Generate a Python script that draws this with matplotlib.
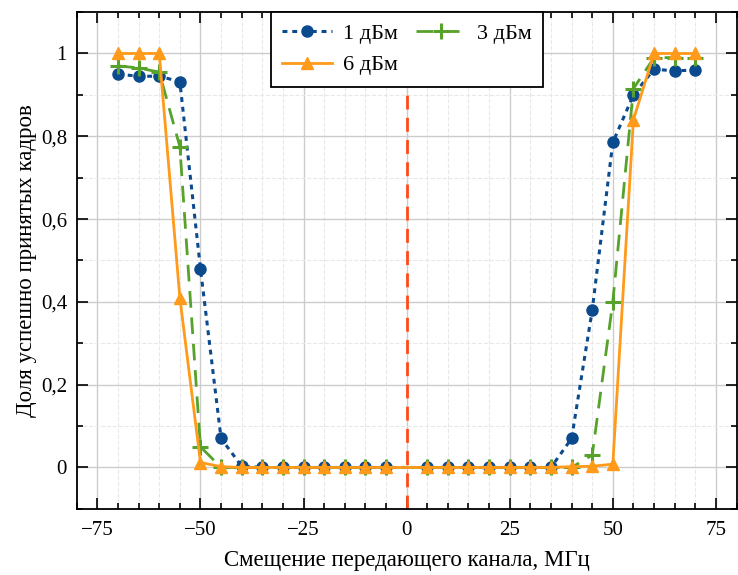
import matplotlib
matplotlib.use("Agg")
import matplotlib.pyplot as plt
from matplotlib.ticker import MultipleLocator, FuncFormatter

plt.rcParams["font.family"] = ["Liberation Serif", "DejaVu Serif"]

offsets = [-70, -65, -60, -55, -50, -45, -40, -35, -30, -25, -20, -15, -10, -5,
           5, 10, 15, 20, 25, 30, 35, 40, 45, 50, 55, 60, 65, 70]

p1dbm = [0.95, 0.945, 0.945, 0.932, 0.48, 0.07, 0.003, 0, 0, 0, 0, 0, 0, 0,
         0, 0, 0, 0, 0, 0, 0, 0.07, 0.38, 0.785, 0.90, 0.962, 0.958, 0.96]
p3dbm = [0.97, 0.965, 0.955, 0.775, 0.05, 0, 0, 0, 0, 0, 0, 0, 0, 0,
         0, 0, 0, 0, 0, 0, 0, 0, 0.03, 0.40, 0.915, 0.99, 0.99, 0.99]
p6dbm = [1.0, 1.0, 1.0, 0.41, 0.012, 0.002, 0, 0, 0, 0, 0, 0, 0, 0,
         0, 0, 0, 0, 0, 0, 0, 0.002, 0.003, 0.008, 0.84, 1.0, 1.0, 1.0]

fig = plt.figure(figsize=(7.38, 5.75), dpi=100)
ax = fig.add_axes([0.104, 0.115, 0.894, 0.864])

l1, = ax.plot(offsets, p1dbm, "--", color="#0C4A8E", lw=2.2, marker="o",
              ms=8, dashes=(1.6, 1.6), label="1 дБм")
l3, = ax.plot(offsets, p3dbm, "--", color="#56A22A", lw=2.0, marker="+",
              ms=11, mew=2.2, dashes=(6, 3.5), label="3 дБм")
l6, = ax.plot(offsets, p6dbm, "-", color="#FF9A1A", lw=2.0, marker="^",
              ms=9, label="6 дБм")
ax.axvline(0, color="#FF4A1A", lw=2.0, ls="--", dashes=(5, 3), zorder=1)

ax.set_xlim(-80, 80)
ax.set_ylim(-0.1, 1.1)
ax.xaxis.set_major_locator(MultipleLocator(25))
ax.xaxis.set_minor_locator(MultipleLocator(5))
ax.yaxis.set_major_locator(MultipleLocator(0.2))
ax.yaxis.set_minor_locator(MultipleLocator(0.1))
ax.yaxis.set_major_formatter(FuncFormatter(
    lambda v, _: ("%g" % round(v, 2)).replace(".", ",")))

ax.grid(which="major", color="#cccccc", lw=1.0)
ax.grid(which="minor", color="#e8e8e8", lw=0.8, ls="--")
ax.set_axisbelow(True)

ax.tick_params(which="both", direction="in", top=True, right=True,
               labelsize=15, width=1.2)
ax.tick_params(axis="x", pad=9)
ax.tick_params(axis="y", pad=7)
ax.tick_params(which="major", length=8)
ax.tick_params(which="minor", length=4)
for s in ax.spines.values():
    s.set_linewidth(1.3)

ax.set_xlabel("Смещение передающего канала, МГц", fontsize=16.5, labelpad=7)
ax.set_ylabel("Доля успешно принятых кадров", fontsize=16.5, labelpad=3)

leg = ax.legend([l1, l6, l3], ["1 дБм", "6 дБм", "3 дБм"],
                loc="upper center", bbox_to_anchor=(0.5, 1.0), ncol=2,
                fontsize=16, fancybox=False, edgecolor="black", framealpha=1,
                borderaxespad=0.0, handlelength=2.25, handletextpad=0.5,
                columnspacing=0.8, labelspacing=0.5, borderpad=0.5)
leg.get_frame().set_linewidth(1.3)

fig.savefig("out.png", dpi=100)
